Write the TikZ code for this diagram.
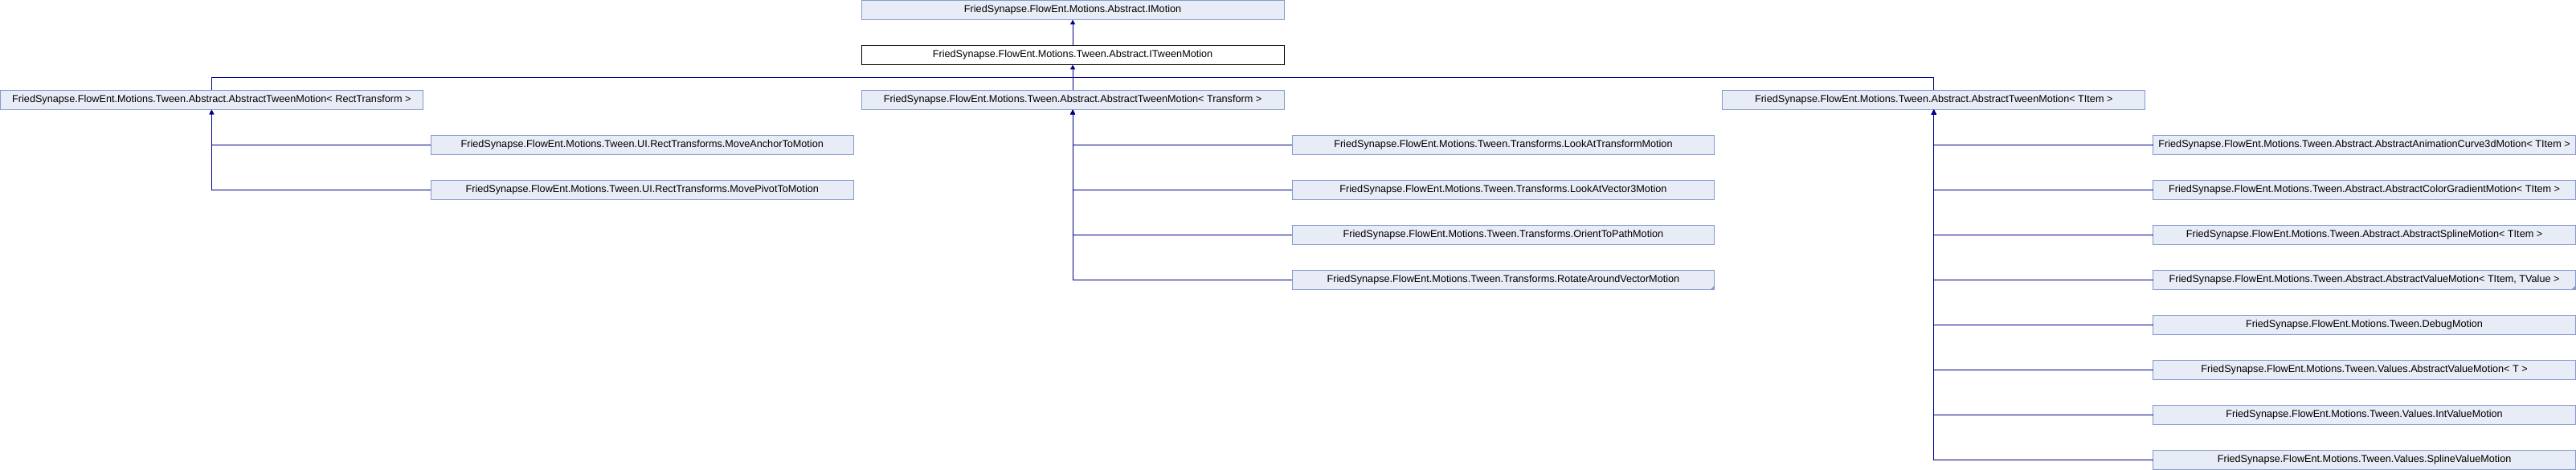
\documentclass[tikz,border=0pt]{standalone}
\usepackage{fontspec}
\setmainfont{Liberation Sans}
\usepackage{xcolor}
\usepackage{tikz}
\usetikzlibrary{arrows.meta, positioning, calc}
\definecolor{dxfill}{RGB}{232, 236, 246}
\definecolor{dxborder}{RGB}{132, 155, 206}
\definecolor{dxline}{RGB}{0, 0, 139}

\begin{document}
\begin{tikzpicture}[
    node distance=24pt and 7.5pt,
    box/.style={rectangle, draw=dxborder, fill=dxfill, line width=0.75pt, minimum width=394.5pt, minimum height=18pt, inner sep=1pt, outer sep=0pt, align=center, font=\fontsize{9.5}{11}\selectfont},
    curbox/.style={box, draw=black, fill=white},
    arrowstyle/.style={-{Triangle[length=4.5pt, width=4.5pt]}, line width=0.75pt, dxline},
    linestyle/.style={line width=0.75pt, dxline}
]

% Interfaces
\node[box] (imotion) {FriedSynapse.FlowEnt.Motions.Abstract.IMotion};
\node[curbox, below=of imotion] (itween) {FriedSynapse.FlowEnt.Motions.Tween.Abstract.ITweenMotion};

% Base tween motions
\node[box, below=of itween] (trbase) {FriedSynapse.FlowEnt.Motions.Tween.Abstract.AbstractTweenMotion< Transform >};
\node[box, left=409.5pt of trbase] (rtbase) {FriedSynapse.FlowEnt.Motions.Tween.Abstract.AbstractTweenMotion< RectTransform >};
\node[box, right=409.5pt of trbase] (tibase) {FriedSynapse.FlowEnt.Motions.Tween.Abstract.AbstractTweenMotion< TItem >};

% RectTransform motions
\node[box, below right=of rtbase] (mvanchor) {FriedSynapse.FlowEnt.Motions.Tween.UI.RectTransforms.MoveAnchorToMotion};
\node[box, below=of mvanchor] (mvpivot) {FriedSynapse.FlowEnt.Motions.Tween.UI.RectTransforms.MovePivotToMotion};

% Transform motions
\node[box, below right=of trbase] (lookattr) {FriedSynapse.FlowEnt.Motions.Tween.Transforms.LookAtTransformMotion};
\node[box, below=of lookattr] (lookatvec) {FriedSynapse.FlowEnt.Motions.Tween.Transforms.LookAtVector3Motion};
\node[box, below=of lookatvec] (orient) {FriedSynapse.FlowEnt.Motions.Tween.Transforms.OrientToPathMotion};
\node[box, below=of orient] (rotate) {FriedSynapse.FlowEnt.Motions.Tween.Transforms.RotateAroundVectorMotion};

% TItem motions
\node[box, below right=of tibase] (animcurve) {FriedSynapse.FlowEnt.Motions.Tween.Abstract.AbstractAnimationCurve3dMotion< TItem >};
\node[box, below=of animcurve] (colorgrad) {FriedSynapse.FlowEnt.Motions.Tween.Abstract.AbstractColorGradientMotion< TItem >};
\node[box, below=of colorgrad] (spline) {FriedSynapse.FlowEnt.Motions.Tween.Abstract.AbstractSplineMotion< TItem >};
\node[box, below=of spline] (valuemotion) {FriedSynapse.FlowEnt.Motions.Tween.Abstract.AbstractValueMotion< TItem, TValue >};
\node[box, below=of valuemotion] (debug) {FriedSynapse.FlowEnt.Motions.Tween.DebugMotion};
\node[box, below=of debug] (valuest) {FriedSynapse.FlowEnt.Motions.Tween.Values.AbstractValueMotion< T >};
\node[box, below=of valuest] (intvalue) {FriedSynapse.FlowEnt.Motions.Tween.Values.IntValueMotion};
\node[box, below=of intvalue] (splinevalue) {FriedSynapse.FlowEnt.Motions.Tween.Values.SplineValueMotion};

\useasboundingbox (rtbase.west |- imotion.north) rectangle (splinevalue.south east);

% more-children marks
\fill[dxborder] (rotate.south east) -- ++(-3.75pt,0) -- ++(3.75pt,3.75pt) -- cycle;
\fill[dxborder] (valuemotion.south east) -- ++(-3.75pt,0) -- ++(3.75pt,3.75pt) -- cycle;

\draw[arrowstyle] (itween) -- (imotion);
\coordinate (bus) at ($(itween.south)!0.5!(trbase.north)$);
\draw[linestyle] (rtbase.north) |- (bus) -| (tibase.north);
\draw[arrowstyle] (trbase.north) -- (itween.south);

\draw[arrowstyle] (mvanchor.west) -| (rtbase.south);
\draw[arrowstyle] (mvpivot.west) -| (rtbase.south);

\draw[arrowstyle] (lookattr.west) -| (trbase.south);
\draw[arrowstyle] (lookatvec.west) -| (trbase.south);
\draw[arrowstyle] (orient.west) -| (trbase.south);
\draw[arrowstyle] (rotate.west) -| (trbase.south);

\draw[arrowstyle] (animcurve.west) -| (tibase.south);
\draw[arrowstyle] (colorgrad.west) -| (tibase.south);
\draw[arrowstyle] (spline.west) -| (tibase.south);
\draw[arrowstyle] (valuemotion.west) -| (tibase.south);
\draw[arrowstyle] (debug.west) -| (tibase.south);
\draw[arrowstyle] (valuest.west) -| (tibase.south);
\draw[arrowstyle] (intvalue.west) -| (tibase.south);
\draw[arrowstyle] (splinevalue.west) -| (tibase.south);
\end{tikzpicture}
\end{document}
